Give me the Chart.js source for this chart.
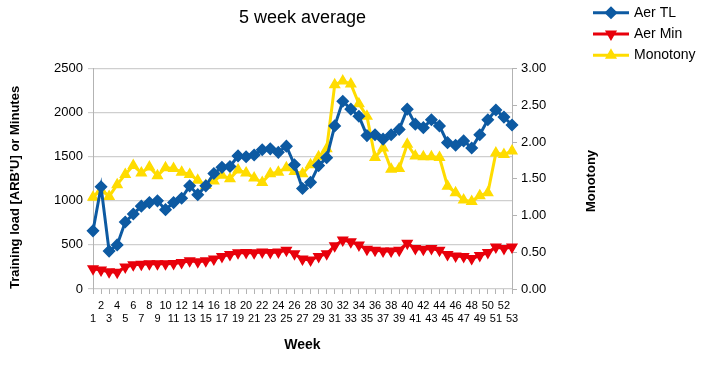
<!DOCTYPE html>
<html><head><meta charset="utf-8">
<script src="https://cdn.jsdelivr.net/npm/chart.js@4.4.1/dist/chart.umd.min.js"></script>
<style>html,body{margin:0;padding:0;background:#fff;} #c{display:block;}</style>
</head><body>
<canvas id="c" width="716" height="379"></canvas>
<script>
const chartTitle = '5 week average';
const weeks = ['1','2','3','4','5','6','7','8','9','10','11','12','13','14','15','16','17','18','19','20','21','22','23','24','25','26','27','28','29','30','31','32','33','34','35','36','37','38','39','40','41','42','43','44','45','46','47','48','49','50','51','52','53'];
const aerTL = [660,1160,430,500,760,850,940,980,1000,900,980,1030,1170,1070,1170,1310,1380,1390,1510,1500,1520,1580,1590,1550,1620,1410,1140,1210,1400,1490,1850,2130,2040,1960,1740,1750,1700,1750,1810,2040,1870,1830,1920,1850,1660,1630,1680,1600,1750,1920,2030,1950,1860];
const aerMin = [230,215,195,190,250,275,280,285,285,285,290,300,320,310,320,340,370,390,410,415,410,420,415,420,440,400,340,330,370,400,490,555,535,500,450,440,430,430,440,520,460,450,460,440,390,375,370,345,380,415,475,460,475];
const monotony = [1.25,1.35,1.26,1.42,1.56,1.68,1.58,1.66,1.54,1.65,1.64,1.59,1.56,1.48,1.41,1.47,1.55,1.50,1.62,1.58,1.51,1.45,1.57,1.59,1.65,1.60,1.57,1.69,1.80,1.91,2.78,2.83,2.79,2.52,2.35,1.79,1.92,1.63,1.64,1.97,1.81,1.80,1.80,1.79,1.40,1.31,1.21,1.19,1.27,1.31,1.85,1.83,1.88];
const leftTicks = {min: 0, max: 2500, step: 500};
const rightTicks = {min: 0, max: 3, step: 0.5};

const FONT = '"Liberation Sans", Arial, Helvetica, sans-serif';
Chart.defaults.font.family = FONT;
Chart.defaults.color = '#000';

const sideLegend = {
  id: 'sideLegend',
  afterDraw(chart) {
    const ctx = chart.ctx;
    ctx.save();
    chart.data.datasets.forEach((ds, i) => {
      const y = 12.7 + i * 21.3;
      ctx.strokeStyle = ds.borderColor;
      ctx.fillStyle = ds.backgroundColor;
      ctx.lineWidth = 3;
      ctx.beginPath(); ctx.moveTo(593, y); ctx.lineTo(629, y); ctx.stroke();
      ctx.lineWidth = 1.5;
      Chart.helpers.drawPoint(ctx, {pointStyle: ds.pointStyle, rotation: ds.pointRotation || 0, radius: 5.5, borderWidth: 1.5}, 611, y);
      ctx.fillStyle = '#000';
      ctx.font = '14px ' + FONT;
      ctx.textBaseline = 'middle';
      ctx.textAlign = 'left';
      ctx.fillText(ds.label, 634, y);
    });
    // right axis title (reads bottom to top)
    ctx.translate(591, 181);
    ctx.rotate(-Math.PI / 2);
    ctx.font = 'bold 13px ' + FONT;
    ctx.textAlign = 'center';
    ctx.textBaseline = 'middle';
    ctx.fillStyle = '#000';
    ctx.fillText('Monotony', 0, 0);
    ctx.restore();
  }
};

new Chart(document.getElementById('c'), {
  type: 'line',
  data: {
    labels: weeks,
    datasets: [
      {label: 'Aer TL', data: aerTL, yAxisID: 'y', borderColor: '#0d5aa2', backgroundColor: '#0d5aa2', borderWidth: 3, pointStyle: 'rectRot', pointRadius: 5.5, pointBorderWidth: 1.5, tension: 0},
      {label: 'Aer Min', data: aerMin, yAxisID: 'y', borderColor: '#e8000b', backgroundColor: '#e8000b', borderWidth: 3, pointStyle: 'triangle', pointRotation: 180, pointRadius: 5.5, pointBorderWidth: 1.5, tension: 0},
      {label: 'Monotony', data: monotony, yAxisID: 'y1', borderColor: '#ffdc00', backgroundColor: '#ffdc00', borderWidth: 3, pointStyle: 'triangle', pointRadius: 5.5, pointBorderWidth: 1.5, tension: 0}
    ]
  },
  options: {
    responsive: false,
    animation: false,
    layout: {padding: {left: 3, right: 114, top: 3, bottom: 10}},
    plugins: {
      legend: {display: false},
      tooltip: {enabled: false},
      title: {display: true, text: chartTitle, font: {size: 18, weight: 'normal'}, color: '#000', padding: {top: 4, bottom: 40}}
    },
    scales: {
      x: {
        type: 'category', offset: false,
        grid: {display: true, drawOnChartArea: false, drawTicks: true, tickLength: 5, color: '#b3b3b3'},
        border: {display: false},
        ticks: {autoSkip: false, maxRotation: 0, minRotation: 0, padding: 5, font: {size: 11}, color: '#000',
          callback: function(v, i) { const l = this.getLabelForValue(v); return i % 2 === 0 ? ['', l] : [l, '']; }},
        title: {display: true, text: 'Week', font: {size: 14, weight: 'bold'}, color: '#000', padding: {top: 0, bottom: 15.6}},
        afterFit: s => { s.height = 80; }
      },
      y: {
        position: 'left', min: leftTicks.min, max: leftTicks.max,
        ticks: {stepSize: leftTicks.step, padding: 5, font: {size: 13}, color: '#000', callback: v => String(v)},
        grid: {color: '#cfcfcf', lineWidth: 1.2, tickLength: 5, drawTicks: true},
        border: {display: true, color: '#b3b3b3'},
        title: {display: true, text: "Training load [ARB'U] or Minutes", align: 'start', color: '#000', font: {size: 13, weight: 'bold'}, padding: {top: 4.2, bottom: 0}},
        afterFit: s => { s.width = 90; }
      },
      y1: {
        position: 'right', min: rightTicks.min, max: rightTicks.max,
        ticks: {stepSize: rightTicks.step, padding: 4, font: {size: 13}, color: '#000', callback: v => Number(v).toFixed(2)},
        grid: {drawOnChartArea: false, tickLength: 5, color: '#b3b3b3'},
        border: {display: true, color: '#b3b3b3'},
        afterFit: s => { s.width = 90; }
      }
    }
  },
  plugins: [sideLegend]
});
</script>
</body></html>
